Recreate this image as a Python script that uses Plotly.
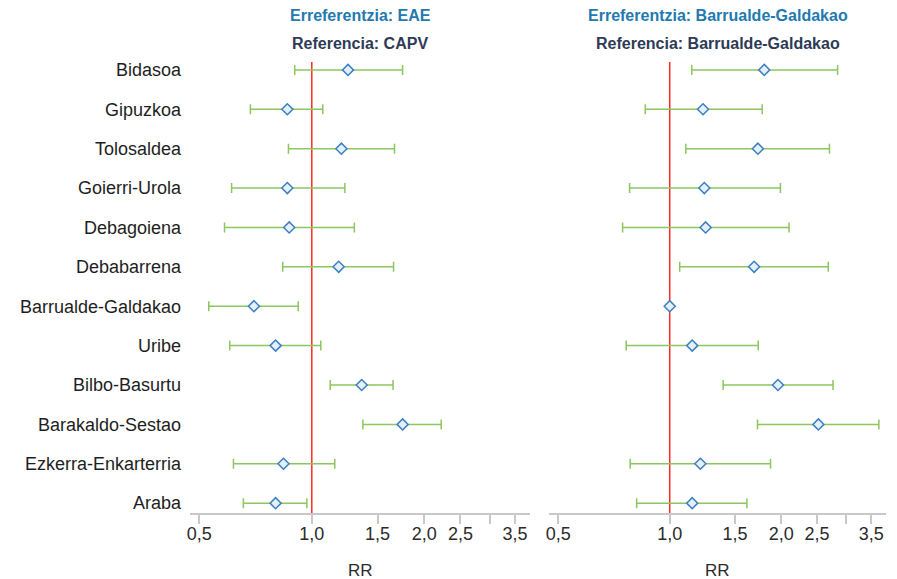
import plotly.graph_objects as go

regions = ["Bidasoa", "Gipuzkoa", "Tolosaldea", "Goierri-Urola", "Debagoiena",
           "Debabarrena", "Barrualde-Galdakao", "Uribe", "Bilbo-Basurtu",
           "Barakaldo-Sestao", "Ezkerra-Enkarterria", "Araba"]

# Panel 1: reference EAE / CAPV
rr_eae = [1.25, 0.86, 1.20, 0.86, 0.87, 1.18, 0.70, 0.80, 1.36, 1.75, 0.84, 0.80]
lo_eae = [0.90, 0.685, 0.866, 0.61, 0.584, 0.836, 0.53, 0.603, 1.12, 1.37, 0.617, 0.656]
hi_eae = [1.75, 1.07, 1.665, 1.226, 1.30, 1.655, 0.92, 1.057, 1.65, 2.22, 1.152, 0.97]

# Panel 2: reference Barrualde-Galdakao
rr_bg = [1.80, 1.23, 1.73, 1.24, 1.25, 1.69, 1.00, 1.15, 1.96, 2.52, 1.21, 1.15]
lo_bg = [1.147, 0.859, 1.105, 0.779, 0.746, 1.064, None, 0.763, 1.394, 1.726, 0.782, 0.814]
hi_bg = [2.84, 1.777, 2.70, 1.99, 2.10, 2.68, None, 1.734, 2.76, 3.67, 1.872, 1.616]

tick_vals = [0.5, 1.0, 1.5, 2.0, 2.5, 3.0, 3.5]
tick_text = ["0,5", "1,0", "1,5", "2,0", "2,5", "", "3,5"]

titles_top = ["Erreferentzia: EAE", "Erreferentzia: Barrualde-Galdakao"]
titles_sub = ["Referencia: CAPV", "Referencia: Barrualde-Galdakao"]
axis_title = "RR"

ERR_COLOR = "#8cc65e"
MARK_LINE = "#3d7fbf"
REF_COLOR = "#ff2a1f"
FONT = "Liberation Sans, Arial, sans-serif"

ypos = list(range(len(regions)))


def plus(v, h):
    return [None if hh is None else hh - vv for vv, hh in zip(v, h)]


def minus(v, l):
    return [None if ll is None else vv - ll for vv, ll in zip(v, l)]


fig = go.Figure()

panels = [(rr_eae, lo_eae, hi_eae, "x", "y"), (rr_bg, lo_bg, hi_bg, "x2", "y2")]
for rr, lo, hi, xa, ya in panels:
    # reference line at RR = 1
    fig.add_trace(go.Scatter(
        x=[1, 1], y=[-0.2, 11.25], mode="lines",
        line=dict(color=REF_COLOR, width=1.5),
        xaxis=xa, yaxis=ya, hoverinfo="skip", showlegend=False))
    fig.add_trace(go.Scatter(
        x=rr, y=ypos, mode="markers",
        marker=dict(symbol="diamond", size=8.5, color="#e3f0fa",
                    line=dict(color=MARK_LINE, width=1.5)),
        error_x=dict(type="data", symmetric=False,
                     array=plus(rr, hi), arrayminus=minus(rr, lo),
                     color=ERR_COLOR, thickness=1.5, width=5),
        xaxis=xa, yaxis=ya, showlegend=False,
        customdata=regions,
        hovertemplate="%{customdata}: %{x}<extra></extra>"))

xcommon = dict(type="log", range=[-0.326, 0.584], tickmode="array",
               tickvals=tick_vals, ticktext=tick_text, showgrid=False,
               zeroline=False, showline=True, linecolor="#c8c8c8", linewidth=1.5,
               ticks="outside", ticklen=9, tickcolor="#c8c8c8", tickwidth=1.5,
               ticklabelstandoff=-5,
               tickfont=dict(family=FONT, size=18, color="#2b2b2b"),
               automargin=False)

ycommon = dict(range=[11.25, -0.2], tickmode="array", tickvals=ypos,
               showgrid=False, zeroline=False, showline=False, automargin=False)

fig.update_layout(
    width=897, height=579,
    margin=dict(l=0, r=0, t=0, b=0, autoexpand=False),
    paper_bgcolor="white", plot_bgcolor="white",
    xaxis=dict(domain=[190 / 897, 530 / 897], anchor="y", **xcommon),
    xaxis2=dict(domain=[549 / 897, 886 / 897], anchor="y2", **xcommon),
    yaxis=dict(domain=[66 / 579, 517 / 579], anchor="x", ticktext=regions,
               ticks="", ticklabelstandoff=8,
               tickfont=dict(family=FONT, size=18, color="#1e1e1e"), **ycommon),
    yaxis2=dict(domain=[66 / 579, 517 / 579], anchor="x2", showticklabels=False,
                ticks="", **ycommon),
)

centers = [360 / 897, 717.5 / 897]
for cx, t1, t2 in zip(centers, titles_top, titles_sub):
    fig.add_annotation(x=cx, y=(579 - 16) / 579, xref="paper", yref="paper",
                       text="<b>" + t1 + "</b>", showarrow=False,
                       xanchor="center", yanchor="middle",
                       font=dict(family=FONT, size=16, color="#2379b0"))
    fig.add_annotation(x=cx, y=(579 - 43) / 579, xref="paper", yref="paper",
                       text="<b>" + t2 + "</b>", showarrow=False,
                       xanchor="center", yanchor="middle",
                       font=dict(family=FONT, size=16, color="#2e3b55"))
    fig.add_annotation(x=cx, y=(579 - 570) / 579, xref="paper", yref="paper",
                       text=axis_title, showarrow=False,
                       xanchor="center", yanchor="middle",
                       font=dict(family=FONT, size=17, color="#2b2b2b"))

fig.write_html("out.html", config={"displayModeBar": False},
               post_script="document.body.style.margin='0';document.body.style.overflow='hidden';")
